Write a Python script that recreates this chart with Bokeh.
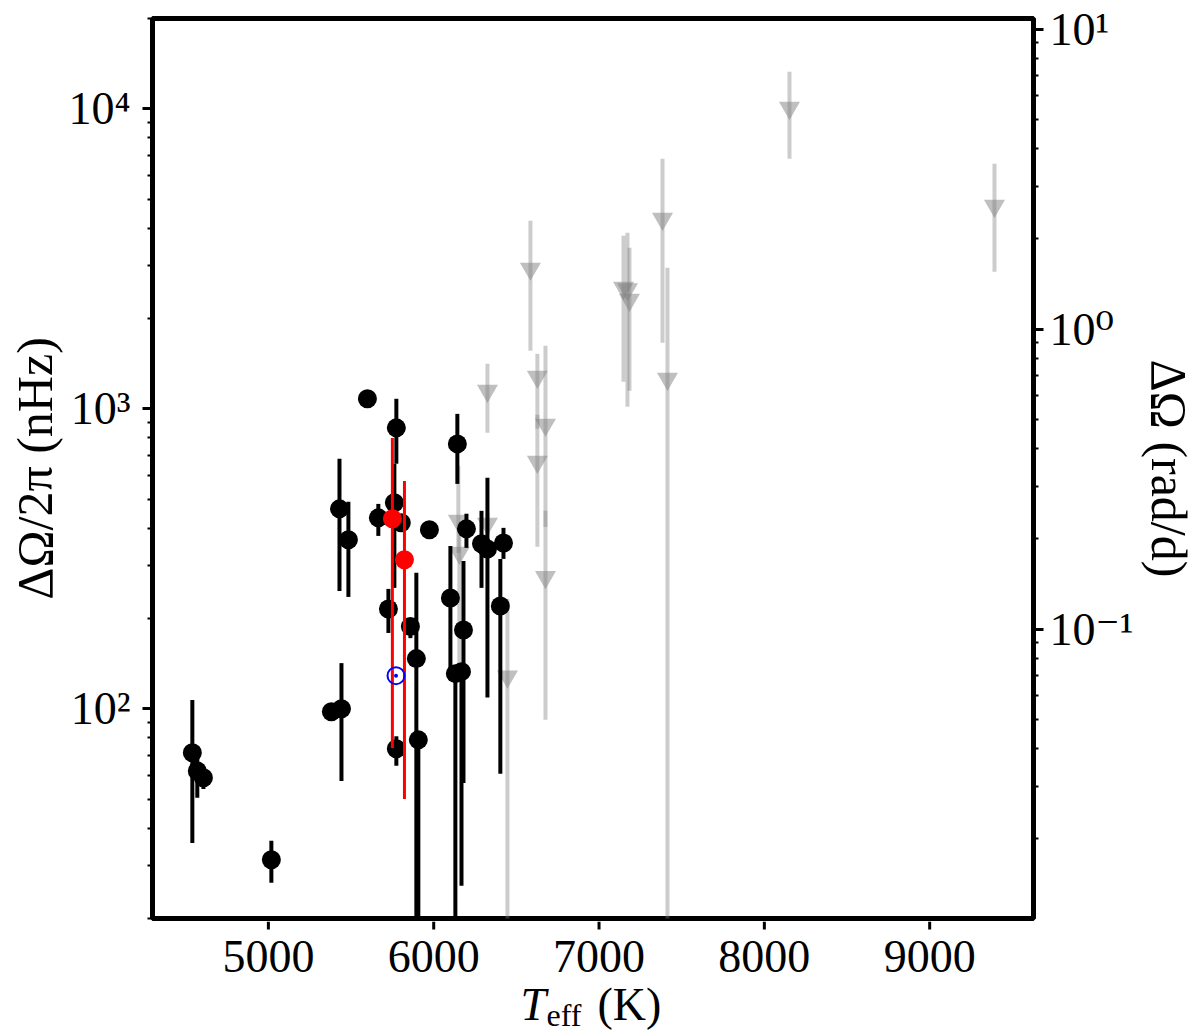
import math
from bokeh.plotting import figure
from bokeh.layouts import column
from bokeh.models import (Range1d, LogAxis, LogScale, FixedTicker,
                          CustomJSTickFormatter, ColumnDataSource)
from bokeh.core.properties import value
from bokeh.embed import file_html
from bokeh.resources import INLINE

# ---------------- data ----------------
# detections (black): Teff [K], dOmega/2pi [nHz], lower / upper error ends [nHz]
blk_teff = [4540, 4570, 4607, 5018, 5381, 5442, 5599, 5774, 5430, 5484,
            5665, 5762, 5804, 5974, 5726, 5859, 5895, 6101, 5774, 5907,
            6143, 6198, 6289, 6325, 6422, 6403, 6180, 6131, 6168]
blk_dw   = [71.4, 62.0, 58.9, 31.4, 97.7, 100.0, 1080, 864, 464, 366,
            433, 486, 417, 395, 215, 188, 147, 234, 73.6, 78.8,
            764, 398, 355, 341, 357, 220, 183, 131, 133]
blk_lo   = [35.7, 50.5, 54.0, 26.3, 95.0, 57.5, 1060, 656, 247, 236,
            377, 253, 400, 385, 179, 172, 1.0, 125, 64.6, 1.0,
            562, 344, 253, 109, 316, 60.7, 56.6, 1.0, 25.7]
blk_hi   = [107, 75.0, 63.0, 36.3, 100.0, 142, 1100, 1080, 681, 490,
            482, 656, 430, 405, 251, 201, 284, 349, 81.0, 84.0,
            962, 447, 457, 589, 401, 316, 311, 140, 140]

# highlighted stars (red)
red_teff = [5750, 5823]
red_dw   = [430, 314]
red_lo   = [74, 50]
red_hi   = [800, 575]

# the Sun (blue)
sun_teff = [5772]
sun_dw   = [129]

# upper limits (grey triangles)
lim_teff = [6149, 6155, 6325, 6325, 6446, 6585, 6627, 6627, 6676, 6676,
            7148, 7172, 7184, 7384, 7414, 8152, 9392]
lim_dw   = [423, 331, 1148, 414, 128, 2930, 1278, 666, 885, 275,
            2530, 2500, 2307, 4300, 1259, 10070, 4750]
lim_lo   = [331, 134, 832, 380, 1.0, 1560, 858, 347, 404, 92,
            1230, 1016, 1148, 1660, 1.0, 6813, 2863]
lim_hi   = [646, 398, 1413, 450, 232, 4233, 1525, 955, 1622, 457,
            3776, 3862, 3443, 6813, 2951, 13280, 6561]

x_ticks = [5000, 6000, 7000, 8000, 9000]
x_tick_labels = ["5000", "6000", "7000", "8000", "9000"]
y_ticks = [100, 1000, 10000]
r_ticks = [0.1, 1, 10]

X0, X1 = 4299, 9628
Y0, Y1 = 20, 20000
NHZ_TO_RADD = 2 * math.pi * 86400e-9

FONT = "'Liberation Serif', 'DejaVu Serif', serif"
FW, FH = 881, 900
BL, BR, BT, BB = 152, 167, 18, 3   # borders of the main figure
QH = 111                            # strip under the frame (ticks + labels)

p = figure(frame_width=FW, frame_height=FH,
           x_range=Range1d(X0, X1), y_range=Range1d(Y0, Y1),
           y_axis_type="log", x_axis_location=None,
           output_backend="svg", toolbar_location=None,
           min_border_left=BL, min_border_right=BR,
           min_border_top=BT, min_border_bottom=BB)
p.background_fill_color = "white"
p.border_fill_color = "white"
p.xgrid.visible = False
p.ygrid.visible = False
p.outline_line_color = "black"
p.outline_line_width = 5
p.outline_line_alpha = 1.0

# right axis in rad/d
p.extra_y_ranges = {"rad": Range1d(Y0 * NHZ_TO_RADD, Y1 * NHZ_TO_RADD)}
p.extra_y_scales = {"rad": LogScale()}
rax = LogAxis(y_range_name="rad")
p.add_layout(rax, "right")

sup_code = """
const e = Math.round(Math.log10(tick));
const m = {'-':'\u207b','0':'\u2070','1':'\u00b9','2':'\u00b2','3':'\u00b3',
           '4':'\u2074','5':'\u2075','6':'\u2076','7':'\u2077','8':'\u2078','9':'\u2079'};
return '10' + String(e).split('').map(c => m[c]).join('');
"""

p.yaxis[0].ticker = FixedTicker(
    ticks=y_ticks,
    minor_ticks=[m * 10 ** e for e in range(1, 5) for m in range(2, 10)])
p.yaxis[0].formatter = CustomJSTickFormatter(code=sup_code)
rax.ticker = FixedTicker(
    ticks=r_ticks,
    minor_ticks=[m * 10.0 ** e for e in range(-2, 2) for m in range(2, 10)])
rax.formatter = CustomJSTickFormatter(code=sup_code)

for ax in [p.yaxis[0], rax]:
    ax.axis_line_color = None
    ax.major_tick_in = 0
    ax.major_tick_out = 10
    ax.major_tick_line_width = 3
    ax.major_tick_line_color = "black"
    ax.minor_tick_in = 0
    ax.minor_tick_out = 5
    ax.minor_tick_line_width = 2
    ax.minor_tick_line_color = "black"
    ax.major_label_text_font = FONT
    ax.major_label_text_font_size = "46px"
    ax.major_label_text_color = "black"
    ax.axis_label_text_font = FONT
    ax.axis_label_text_font_size = "50px"
    ax.axis_label_text_font_style = "normal"
    ax.axis_label_text_color = "black"

p.yaxis[0].major_label_standoff = 12
rax.major_label_standoff = 6
p.yaxis[0].axis_label = "ΔΩ/2π (nHz)"
p.yaxis[0].axis_label_standoff = 2
rax.axis_label = "ΔΩ (rad/d)"
rax.axis_label_standoff = 4

# ---------------- marks ----------------
lim_src = ColumnDataSource(dict(t=lim_teff, v=lim_dw, lo=lim_lo, hi=lim_hi))
blk_src = ColumnDataSource(dict(t=blk_teff, v=blk_dw, lo=blk_lo, hi=blk_hi))
red_src = ColumnDataSource(dict(t=red_teff, v=red_dw, lo=red_lo, hi=red_hi))
sun_src = ColumnDataSource(dict(t=sun_teff, v=sun_dw))

p.segment(x0="t", y0="lo", x1="t", y1="hi", source=lim_src,
          line_color="gray", line_alpha=0.4, line_width=4)
p.scatter(x="t", y="v", source=lim_src, marker="inverted_triangle", size=21,
          fill_color="gray", fill_alpha=0.5, line_color=None)

p.segment(x0="t", y0="lo", x1="t", y1="hi", source=blk_src,
          line_color="black", line_width=4)
p.scatter(x="t", y="v", source=blk_src, marker="circle", size=19,
          fill_color="black", line_color=None)

p.segment(x0="t", y0="lo", x1="t", y1="hi", source=red_src,
          line_color="red", line_width=3)
p.scatter(x="t", y="v", source=red_src, marker="circle", size=19,
          fill_color="red", line_color=None)

p.scatter(x="t", y="v", source=sun_src, marker="circle", size=17,
          fill_color=None, line_color="blue", line_width=2)
p.scatter(x="t", y="v", source=sun_src, marker="circle", size=4,
          fill_color="blue", line_color=None)

# ---------------- strip under the frame: x ticks, tick labels, x title ----------------
q = figure(frame_width=FW, frame_height=QH, x_range=p.x_range,
           y_range=Range1d(QH, 0), min_border_left=BL, min_border_right=BR,
           min_border_top=0, min_border_bottom=0,
           output_backend="svg", toolbar_location=None,
           x_axis_location=None, y_axis_location=None)
q.xgrid.visible = False
q.ygrid.visible = False
q.outline_line_color = None
q.background_fill_color = "white"
q.border_fill_color = "white"

# major ticks of the bottom axis (pointing down out of the frame)
q.segment(x0=x_ticks, y0=[0] * len(x_ticks), x1=x_ticks, y1=[8] * len(x_ticks),
          line_color="black", line_width=3)
# (text is vertically centred on y)
q.text(x=x_ticks, y=[35] * len(x_ticks), text=x_tick_labels,
       text_font=value(FONT), text_font_size="46px", text_align="center",
       text_baseline="middle", text_color="black")


def px2x(px):
    return X0 + (px - BL) / FW * (X1 - X0)


q.text(x=[px2x(520)], y=[83], text=["T"], text_font=value(FONT),
       text_font_style="italic", text_font_size="46px",
       text_baseline="middle", text_align="left", text_color="black")
q.text(x=[px2x(546)], y=[93], text=["eff"], text_font=value(FONT),
       text_font_size="32px", text_baseline="middle",
       text_align="left", text_color="black")
q.text(x=[px2x(597)], y=[83], text=["(K)"], text_font=value(FONT),
       text_font_size="46px", text_baseline="middle",
       text_align="left", text_color="black")

layout = column(p, q, spacing=0)
open("out.html", "w").write(file_html(layout, INLINE))
